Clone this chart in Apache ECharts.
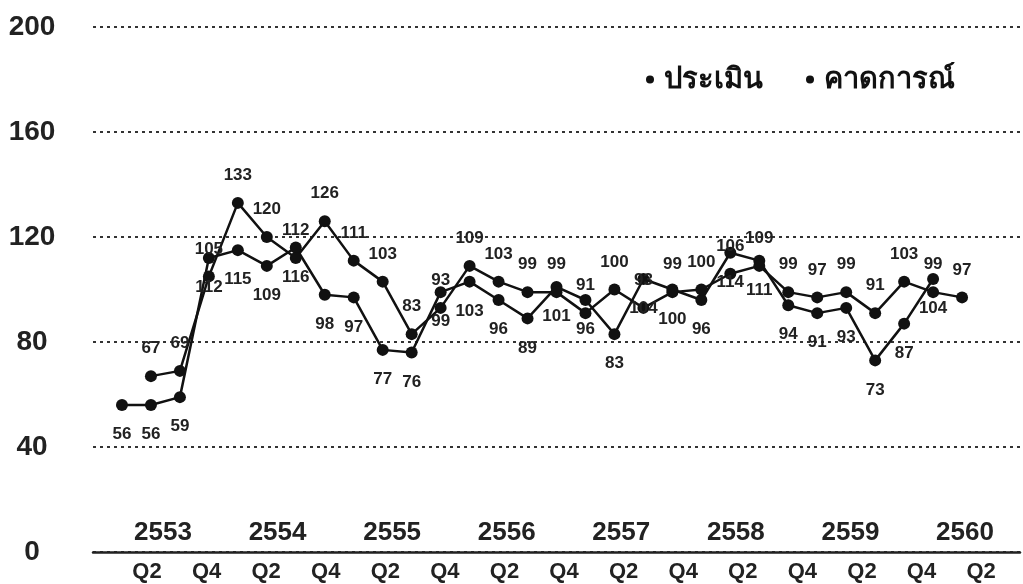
<!DOCTYPE html>
<html>
<head>
<meta charset="utf-8">
<script src="https://cdn.jsdelivr.net/npm/echarts@6/dist/echarts.min.js"></script>
<style>
html, body { margin: 0; padding: 0; background: #fff; }
#chart { width: 1023px; height: 584px; }
</style>
</head>
<body>
<div id="chart"></div>
<script>
// quarters 2553 Q1 .. 2560 Q2
var quarters = ['Q1','Q2','Q3','Q4','Q1','Q2','Q3','Q4','Q1','Q2','Q3','Q4','Q1','Q2','Q3','Q4',
                'Q1','Q2','Q3','Q4','Q1','Q2','Q3','Q4','Q1','Q2','Q3','Q4','Q1','Q2'];
var years = ['2553','2554','2555','2556','2557','2558','2559','2560'];

// ประเมิน (ไตรมาส 1/2553 - 1/2560)
var assess = [56, 56, 59, 112, 115, 109, 116, 98, 97, 77, 76, 99, 103, 96, 89, 101, 96, 83, 104, 100,
              96, 114, 111, 94, 91, 93, 73, 87, 104, null];
// คาดการณ์ (ไตรมาส 2/2553 - 2/2560)
var forecast = [null, 67, 69, 105, 133, 120, 112, 126, 111, 103, 83, 93, 109, 103, 99, 99, 91, 100, 93, 99,
                100, 106, 109, 99, 97, 99, 91, 103, 99, 97];

var yTicks = [0, 40, 80, 120, 160, 200];

var numFont = "'Liberation Sans Narrow', 'Liberation Sans', Arial, sans-serif";

function toPoints(arr) {
    var out = [];
    for (var i = 0; i < arr.length; i++) {
        if (arr[i] != null) out.push([i, arr[i]]);
    }
    return out;
}

var chart = echarts.init(document.getElementById('chart'));

function lineSeries(name, arr, pos, dist) {
    return {
        name: name,
        type: 'line',
        xAxisIndex: 0,
        yAxisIndex: 0,
        data: toPoints(arr),
        symbol: 'circle',
        symbolSize: 12,
        itemStyle: { color: '#111' },
        lineStyle: { color: '#111', width: 2.5 },
        label: {
            show: true,
            position: pos,
            distance: dist,
            formatter: function (p) { return p.value[1]; },
            fontFamily: "'Liberation Sans', Arial, sans-serif",
            fontWeight: 'bold',
            fontSize: 17,
            color: '#222'
        },
        emphasis: { disabled: true },
        z: 3
    };
}

var option = {
    animation: false,
    backgroundColor: '#fff',
    legend: {
        right: 63,
        top: 60,
        icon: 'circle',
        itemWidth: 18,
        itemHeight: 8,
        itemGap: 43,
        textStyle: { fontSize: 29, fontWeight: 'bold', color: '#111' },
        data: ['ประเมิน', 'คาดการณ์']
    },
    grid: [
        { left: 93, right: 3, top: 27, bottom: 32 },
        { left: 102.3, right: 27, top: 27, bottom: 32 },
        { left: 105.7, right: 0.7, top: 27, bottom: 32 }
    ],
    xAxis: [
        {
            gridIndex: 0, type: 'value', min: -1, max: 31,
            axisLine: { show: true, lineStyle: { color: '#222', width: 2.5 } },
            axisTick: { show: false },
            axisLabel: { show: false },
            splitLine: { show: false }
        },
        {
            gridIndex: 1, type: 'category', data: quarters, boundaryGap: true,
            axisLine: { show: false },
            axisTick: { show: false },
            axisLabel: {
                interval: function (i) { return i % 2 === 1; },
                fontFamily: numFont, fontWeight: 'bold', fontSize: 22, color: '#222', margin: 9
            }
        },
        {
            gridIndex: 2, type: 'category', data: years, boundaryGap: true,
            axisLine: { show: false },
            axisTick: { show: false },
            axisLabel: {
                inside: true, interval: 0,
                fontFamily: "'Liberation Sans', Arial, sans-serif", fontWeight: 'bold', fontSize: 26, color: '#222', margin: 6
            }
        }
    ],
    yAxis: [
        {
            gridIndex: 0, type: 'value', min: yTicks[0], max: yTicks[yTicks.length - 1], interval: 40,
            axisLine: { show: false },
            axisTick: { show: false },
            axisLabel: {
                align: 'center', margin: 61,
                fontFamily: numFont, fontWeight: 'bold', fontSize: 28, color: '#222'
            },
            splitLine: { lineStyle: { type: [3, 4], color: '#333', width: 2 } }
        },
        { gridIndex: 1, type: 'value', show: false },
        { gridIndex: 2, type: 'value', show: false }
    ],
    series: [
        lineSeries('ประเมิน', assess, 'bottom', 15),
        lineSeries('คาดการณ์', forecast, 'top', 13)
    ]
};

chart.setOption(option);
</script>
</body>
</html>
